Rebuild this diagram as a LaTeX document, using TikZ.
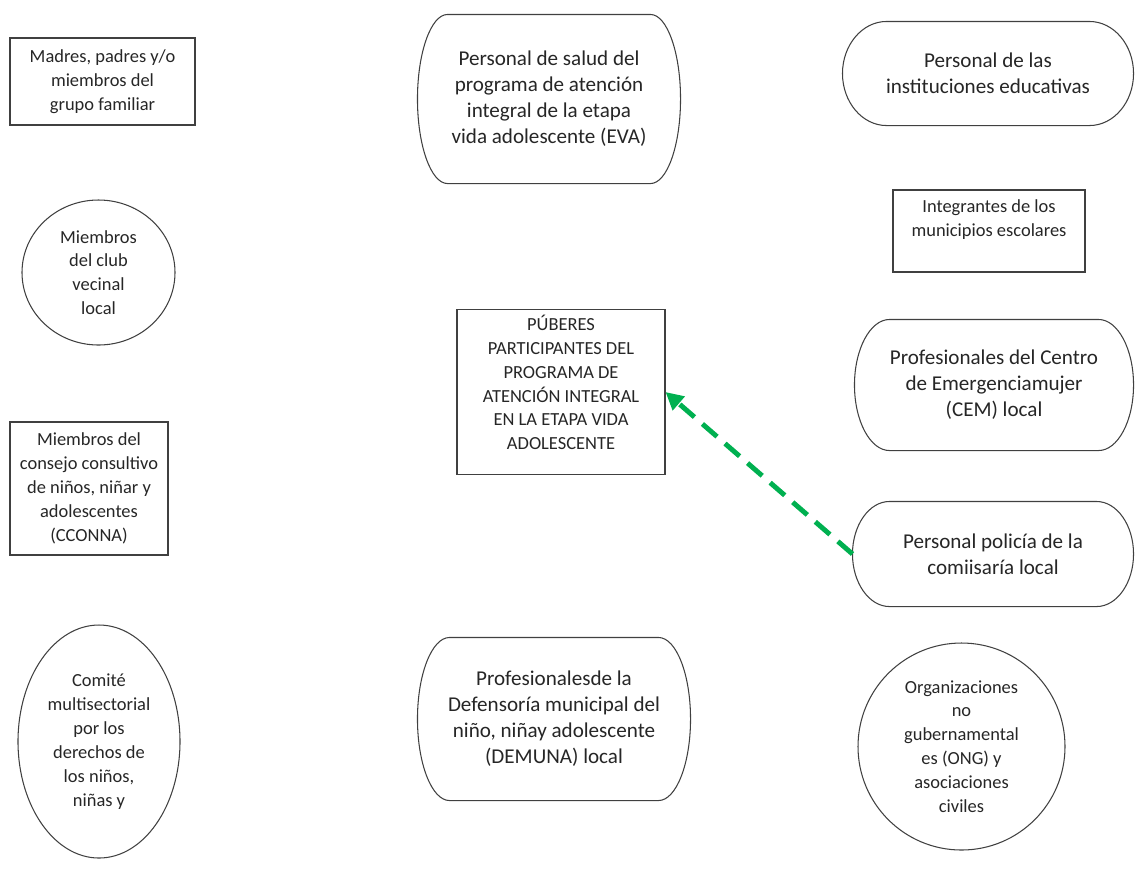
\documentclass[tikz,border=0pt]{standalone}
\usepackage{fontspec}
\setmainfont{Carlito}
\usetikzlibrary{arrows.meta,shapes.geometric,calc,positioning}

\definecolor{linkgreen}{RGB}{0,176,80}

\begin{document}
\begin{tikzpicture}[x=0.2mm, y=-0.2mm,
        every node/.style={align=center, text=black!85, draw=black!75, line width=0.6pt},
        outline/.style={draw=black!75, line width=0.6pt},
        smallfont/.style={font=\fontsize{10.5}{13.6}\selectfont},
        bigfont/.style={font=\fontsize{12}{14.8}\selectfont},
        box/.style={rectangle, smallfont, inner sep=2pt},
        oval/.style={ellipse, smallfont, inner sep=0pt},
        pill/.style={rectangle, bigfont, draw=none, inner sep=1pt},
        link/.style={-{Triangle[length=10pt, width=10pt]}, draw=linkgreen,
                line width=2.8pt, dash pattern=on 11pt off 6pt}]
        \useasboundingbox (0, 0) rectangle (1135, 888);

        \node[box, minimum width=37mm, minimum height=17.4mm] (madres) at (102.5, 81.5)
                {Madres, padres y/o\\miembros del\\grupo familiar};
        \node[pill, minimum width=52.4mm, minimum height=33.6mm] (salud) at (549, 99)
                {Personal de salud del\\programa de atención\\integral de la etapa\\vida adolescente (EVA)};
        \node[pill, minimum width=58mm, minimum height=20.6mm] (instituciones) at (988, 73.5)
                {Personal de las\\instituciones educativas};

        \node[oval, minimum width=30.6mm, minimum height=29mm] (club) at (98.5, 272.5)
                {Miembros\\del club\\vecinal\\local};
        \node[box, text depth=15pt, minimum width=38.4mm, minimum height=16.4mm] (integrantes) at (989, 231)
                {Integrantes de los\\municipios escolares};

        \node[box, text depth=11pt, minimum width=41.6mm, minimum height=33mm] (puberes) at (561, 392)
                {PÚBERES\\PARTICIPANTES DEL\\PROGRAMA DE\\ATENCIÓN INTEGRAL\\EN LA ETAPA VIDA\\ADOLESCENTE};
        \node[pill, minimum width=55.6mm, minimum height=26mm] (cem) at (994, 385)
                {Profesionales del Centro\\de Emergenciamujer\\(CEM) local};

        \node[box, minimum width=31.6mm, minimum height=26.6mm] (cconna) at (89, 488.5)
                {Miembros del\\consejo consultivo\\de niños, niñar y\\adolescentes\\(CCONNA)};
        \node[pill, minimum width=56mm, minimum height=20.8mm] (policia) at (993, 554)
                {Personal policía de la\\comiisaría local};

        \node[oval, minimum width=32.4mm, minimum height=46.6mm] (comite) at (99, 741.5)
                {Comité\\multisectorial\\por los\\derechos de\\los niños,\\niñas y};
        \node[pill, minimum width=54.4mm, minimum height=32.4mm] (demuna) at (554, 719)
                {Profesionalesde la\\Defensoría municipal del\\niño, niñay adolescente\\(DEMUNA) local};
        \node[oval, minimum width=41.4mm, minimum height=41.4mm] (ong) at (961.5, 746.5)
                {Organizaciones\\no\\gubernamental\\es (ONG) y\\asociaciones\\civiles};

        \foreach \n/\d in {salud/30, instituciones/44, cem/35, policia/37, demuna/32}
                \draw[outline] ($(\n.north west)+(\d,0)$) -- ($(\n.north east)+(-\d,0)$)
                        .. controls ($(\n.north east)+(-0.45*\d,0)$) and ($(\n.east)!0.55!(\n.north east)$) .. (\n.east)
                        .. controls ($(\n.east)!0.55!(\n.south east)$) and ($(\n.south east)+(-0.45*\d,0)$) .. ($(\n.south east)+(-\d,0)$)
                        -- ($(\n.south west)+(\d,0)$)
                        .. controls ($(\n.south west)+(0.45*\d,0)$) and ($(\n.west)!0.55!(\n.south west)$) .. (\n.west)
                        .. controls ($(\n.west)!0.55!(\n.north west)$) and ($(\n.north west)+(0.45*\d,0)$) .. cycle;

        \draw[link] (policia.west) -- (puberes.east);
\end{tikzpicture}
\end{document}
